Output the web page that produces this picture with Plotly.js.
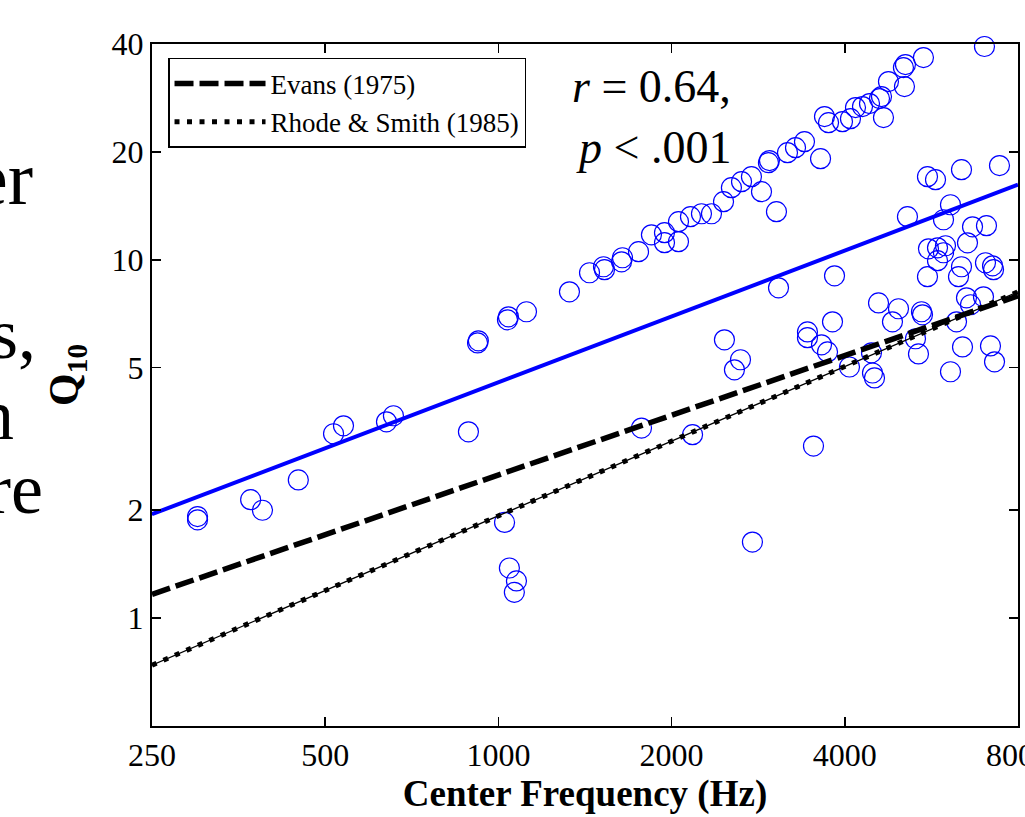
<!DOCTYPE html>
<html>
<head>
<meta charset="utf-8">
<script src="https://cdn.plot.ly/plotly-3.0.1.min.js"></script>
<style>
html,body{margin:0;padding:0;background:#fff;}
#chart{width:1025px;height:817px;}
</style>
</head>
<body>
<div id="chart"></div>
<script>
// Measured data: center frequency (Hz) and Q10 for each fibre
const freqHz = [300,300,371,389,449,517,538,639,657,887,
  920,923,1037,1041,1119,1025,1045,1075,1066,1329,
  1440,1523,1529,1637,1643,1752,1845,1944,1944,2056,
  2056,2157,2254,2346,2462,2541,2646,2753,2866,3043,
  2947,2959,3180,3284,3404,3630,3688,3748,3963,4092,
  4175,4294,4416,4596,4633,4670,4764,5058,5099,5079,
  5480,6996,5569,5751,6381,7429,5140,6106,5938,6669,
  7052,3068,3839,5591,5797,5985,5938,6536,5797,6381,
  6305,5569,7024,7225,7254,6510,6616,6968,4578,4959,
  4841,5437,5459,3808,6255,5308,5372,6407,7166,7283,
  6106,4076,4451,4469,4505,3644,3733,2471,2635,2572,
  3445,3445,1773,2175,3529,2764];
const q10 = [1.92,1.88,2.14,2.00,2.43,3.27,3.44,3.53,3.67,3.31,
  5.86,5.94,6.80,6.93,7.16,1.85,1.38,1.27,1.18,8.14,
  9.20,9.56,9.38,9.87,10.13,10.53,11.74,11.90,11.16,11.23,
  12.77,13.19,13.44,13.44,14.52,15.89,16.52,17.05,15.49,13.62,
  18.66,18.91,19.90,20.55,21.36,19.15,25.09,24.13,24.29,24.76,
  26.59,26.76,27.28,28.17,28.53,24.93,31.42,34.38,35.05,30.42,
  36.67,39.36,17.05,16.73,17.84,18.31,13.19,14.24,12.93,12.36,
  12.45,8.35,9.02,10.73,10.80,10.94,10.46,11.15,9.94,9.56,
  8.97,8.97,9.81,9.62,9.38,7.83,7.49,7.88,7.58,7.30,
  6.71,7.16,7.02,6.71,6.71,6.02,5.46,5.71,5.75,5.19,
  4.87,5.02,5.50,4.83,4.68,5.79,5.53,5.98,5.26,4.93,
  6.29,6.06,3.39,3.25,3.02,1.63];

// Regression fit (blue) and literature lines
const fitFreq = [250, 8000];
const fitQ10 = [1.95, 16.2];
const evansFreq = [250, 8000];
const evansQ10 = [1.165, 7.93];
const rhodeFreq = [250, 8000];
const rhodeQ10 = [0.739, 8.14];

const legendNames = ['Evans (1975)', 'Rhode &amp; Smith (1985)'];
const xTicks = [250, 500, 1000, 2000, 4000, 8000];
const yTicks = [1, 2, 5, 10, 20, 40];
const xRange = [250, 8000];
const yRange = [0.5, 40];

const serif = '"Liberation Serif", "Times New Roman", Times, serif';

const traces = [
  {
    x: freqHz, y: q10, type: 'scatter', mode: 'markers', showlegend: false,
    cliponaxis: false, hoverinfo: 'x+y',
    marker: {symbol: 'circle-open', size: 20, color: '#0000ff', line: {width: 1.2, color: '#0000ff'}}
  },
  {
    x: fitFreq, y: fitQ10, type: 'scatter', mode: 'lines', showlegend: false,
    line: {color: '#0000ff', width: 4}
  },
  {
    x: evansFreq, y: evansQ10, type: 'scatter', mode: 'lines', name: legendNames[0],
    line: {color: '#000', width: 5.5, dash: '19px,6px'}
  },
  {
    x: rhodeFreq, y: rhodeQ10, type: 'scatter', mode: 'lines', showlegend: false,
    line: {color: '#000', width: 1.3}
  },
  {
    x: rhodeFreq, y: rhodeQ10, type: 'scatter', mode: 'lines', name: legendNames[1],
    line: {color: '#000', width: 5, dash: '5px,7.5px'}
  }
];

const axisCommon = {
  type: 'log', showgrid: false, zeroline: false,
  showline: true, linecolor: '#000', linewidth: 2, mirror: 'ticks',
  ticks: 'inside', ticklen: 9, tickwidth: 1.5, tickcolor: '#000',
  tickfont: {family: serif, size: 32, color: '#000'},
  ticklabeloverflow: 'allow',
  automargin: false
};

const layout = {
  width: 1025, height: 817,
  margin: {l: 152, r: 7, t: 44, b: 91, pad: 0},
  paper_bgcolor: '#fff', plot_bgcolor: '#fff',
  font: {family: serif, color: '#000', size: 32},
  showlegend: true,
  legend: {
    x: 0.0185, y: 0.9795, xanchor: 'left', yanchor: 'top',
    bgcolor: '#fff', bordercolor: '#000', borderwidth: 1.5,
    font: {family: serif, size: 27, color: '#000'},
    itemwidth: 91, tracegroupgap: 0
  },
  xaxis: Object.assign({}, axisCommon, {
    range: [Math.log10(xRange[0]), Math.log10(xRange[1])],
    tickvals: xTicks, ticktext: xTicks.map(String),
    title: {text: '<b>Center Frequency (Hz)</b>', font: {family: serif, size: 37, color: '#000'}, standoff: 8}
  }),
  yaxis: Object.assign({}, axisCommon, {
    range: [Math.log10(yRange[0]), Math.log10(yRange[1])],
    tickvals: yTicks, ticktext: yTicks.map(String),
    title: {text: ''}
  }),
  annotations: [
    {xref: 'paper', yref: 'paper', x: -0.0982, y: 0.5147, xanchor: 'center', yanchor: 'middle', showarrow: false,
     textangle: -90, text: '<b>Q<sub>10</sub></b>', font: {family: serif, size: 42, color: '#000'}},
    {xref: 'paper', yref: 'paper', x: 0.483, y: 0.9375, xanchor: 'left', yanchor: 'middle', showarrow: false,
     text: '<i>r</i> = 0.64,', font: {family: serif, size: 46, color: '#000'}},
    {xref: 'paper', yref: 'paper', x: 0.487, y: 0.8480, xanchor: 'left', yanchor: 'middle', showarrow: false,
     text: '<i>p</i> &lt; .001', font: {family: serif, size: 46, color: '#000'}},
    {xref: 'paper', yref: 'paper', x: -0.1351, y: 0.8035, xanchor: 'right', yanchor: 'middle', showarrow: false,
     text: 'er', font: {family: serif, size: 76, color: '#000'}},
    {xref: 'paper', yref: 'paper', x: -0.1316, y: 0.5748, xanchor: 'right', yanchor: 'middle', showarrow: false,
     text: 's,', font: {family: serif, size: 72, color: '#000'}},
    {xref: 'paper', yref: 'paper', x: -0.157, y: 0.456, xanchor: 'right', yanchor: 'middle', showarrow: false,
     text: 'n', font: {family: serif, size: 72, color: '#000'}},
    {xref: 'paper', yref: 'paper', x: -0.1236, y: 0.3475, xanchor: 'right', yanchor: 'middle', showarrow: false,
     text: 're', font: {family: serif, size: 72, color: '#000'}}
  ]
};

Plotly.newPlot('chart', traces, layout, {displayModeBar: false, staticPlot: true});
</script>
</body>
</html>
